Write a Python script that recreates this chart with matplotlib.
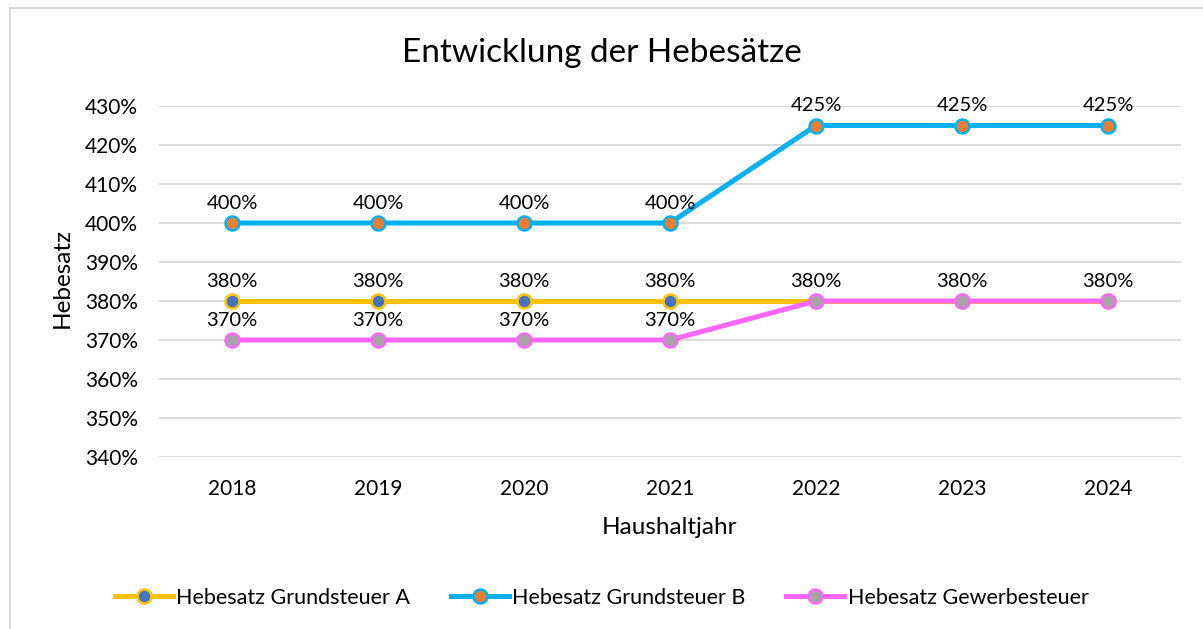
import matplotlib.pyplot as plt
from matplotlib.patches import Rectangle

plt.rcParams['font.family'] = ['Lato', 'DejaVu Sans']

years = ["2018", "2019", "2020", "2021", "2022", "2023", "2024"]
grundsteuer_a = [380, 380, 380, 380, 380, 380, 380]
grundsteuer_b = [400, 400, 400, 400, 425, 425, 425]
gewerbesteuer = [370, 370, 370, 370, 380, 380, 380]
y_ticks = [340, 350, 360, 370, 380, 390, 400, 410, 420, 430]

series = [
    ("Hebesatz Grundsteuer A", grundsteuer_a, "#FFC000", "#4472C4"),
    ("Hebesatz Grundsteuer B", grundsteuer_b, "#00B0F0", "#ED7D31"),
    ("Hebesatz Gewerbesteuer", gewerbesteuer, "#FF66FF", "#A5A5A5"),
]

fig = plt.figure(figsize=(12.03, 6.29), dpi=100)
ax = fig.add_axes([159 / 1203, 1 - 457 / 629, (1181 - 159) / 1203, (457 - 106) / 629])

# chart frame (light gray, top and left visible)
fig.patches.append(Rectangle((10 / 1203, -0.1), 1.2, 1 - 8 / 629 + 0.1,
                             transform=fig.transFigure, fill=False,
                             edgecolor="#D9D9D9", linewidth=1.5))

x = list(range(len(years)))
labelled = set()
for name, vals, lc, mc in series:
    ax.plot(x, vals, color=lc, linewidth=3.6, marker="o", markersize=10,
            markerfacecolor=mc, markeredgecolor=lc, markeredgewidth=1.8,
            label=name, zorder=3)
    for xi, v in zip(x, vals):
        if (xi, v) in labelled:
            continue
        labelled.add((xi, v))
        ax.annotate(f"{v}%", (xi, v), xytext=(0, 8), textcoords="offset points",
                    ha="center", va="bottom", fontsize=14.5, color="#000000")

ax.set_xlim(-0.5, len(years) - 0.5)
ax.set_ylim(340, 430)
ax.set_yticks(y_ticks)
ax.set_yticklabels([f"{t}%" for t in y_ticks])
ax.set_xticks(x)
ax.set_xticklabels(years)
ax.tick_params(axis="both", length=0, labelsize=15)
ax.tick_params(axis="x", pad=16)
ax.tick_params(axis="y", pad=15)
ax.grid(axis="y", color="#D9D9D9", linewidth=1.3)
ax.set_axisbelow(True)
for s in ax.spines.values():
    s.set_visible(False)

ax.set_xlabel("Haushaltjahr", fontsize=17.5)
ax.set_ylabel("Hebesatz", fontsize=17.5)
ax.xaxis.set_label_coords(0.5, (457 - 527) / 351)
ax.xaxis.label.set_va("center")
ax.yaxis.set_label_coords((62 - 159) / 1022, 0.51)
ax.yaxis.label.set_va("center")

fig.text(0.5, 1 - 53 / 629, "Entwicklung der Hebesätze", ha="center", va="center",
         fontsize=24)

fig.legend(loc="center", bbox_to_anchor=(0.5, 1 - 598 / 629), ncol=3, frameon=False,
           fontsize=15.5, handlelength=2.7, columnspacing=1.9, handletextpad=0.15)

fig.savefig("out.png", dpi=100)
